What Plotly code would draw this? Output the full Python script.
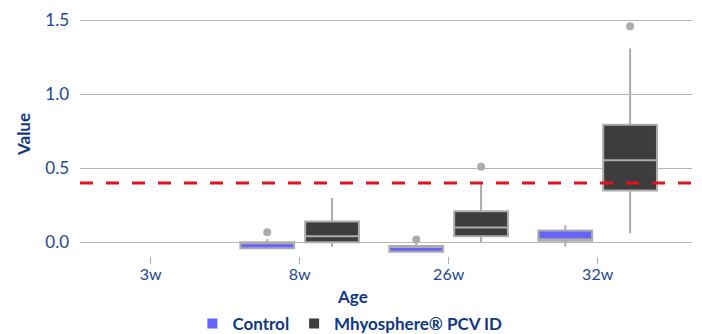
import plotly.graph_objects as go

categories = ["3w", "8w", "26w", "32w"]
box_x = ["8w", "26w", "32w"]

ctrl_lower = [-0.04, -0.065, -0.03]
ctrl_q1 = [-0.04, -0.065, 0.01]
ctrl_median = [-0.005, -0.03, 0.02]
ctrl_q3 = [0.0, -0.025, 0.08]
ctrl_upper = [0.02, 0.0, 0.115]
ctrl_outlier_x = ["8w", "26w"]
ctrl_outlier_y = [0.068, 0.018]

pcv_lower = [-0.03, 0.0, 0.063]
pcv_q1 = [0.0, 0.04, 0.35]
pcv_median = [0.04, 0.10, 0.555]
pcv_q3 = [0.14, 0.21, 0.795]
pcv_upper = [0.30, 0.40, 1.31]
pcv_outlier_x = ["26w", "32w"]
pcv_outlier_y = [0.51, 1.46]

threshold = 0.4
y_ticks = [0.0, 0.5, 1.0, 1.5]

TICK_COLOR = "#1d4595"
TITLE_COLOR = "#0f3883"
FONT = "Lato"
GRAY = "#acacac"
CTRL_COLOR = "#6565fd"
PCV_COLOR = "#3d3d3d"

fig = go.Figure()

def add_box(name, group, color, lower, q1, med, q3, upper):
    fig.add_trace(go.Box(
        name=name, x=box_x, orientation="v", offsetgroup=group,
        lowerfence=lower, q1=q1, median=med, q3=q3, upperfence=upper,
        fillcolor=color, line=dict(color=GRAY, width=2),
        boxpoints=False, whiskerwidth=0,
        showlegend=False, hoverinfo="skip"))

def add_outliers(name, group, ox, oy):
    fig.add_trace(go.Box(
        name=name, x=ox, y=oy, offsetgroup=group,
        fillcolor="rgba(0,0,0,0)", line=dict(color="rgba(0,0,0,0)", width=0),
        marker=dict(color=GRAY, size=8),
        boxpoints="all", jitter=0, pointpos=0, whiskerwidth=0,
        showlegend=False, hoverinfo="skip"))

add_box("Control", "c", CTRL_COLOR, ctrl_lower, ctrl_q1, ctrl_median, ctrl_q3, ctrl_upper)
add_box("Mhyosphere® PCV ID", "p", PCV_COLOR, pcv_lower, pcv_q1, pcv_median, pcv_q3, pcv_upper)
add_outliers("Control", "c", ctrl_outlier_x, ctrl_outlier_y)
add_outliers("Mhyosphere® PCV ID", "p", pcv_outlier_x, pcv_outlier_y)

for name, color in [("Control", CTRL_COLOR), ("Mhyosphere® PCV ID", PCV_COLOR)]:
    fig.add_trace(go.Scatter(x=[None], y=[None], mode="markers", name=name,
                             marker=dict(symbol="square", size=10, color=color)))

fig.add_shape(type="line", xref="paper", x0=0, x1=1, yref="y", y0=threshold, y1=threshold,
              line=dict(color="#e4121d", width=3, dash="13px,13px"))

fig.add_annotation(text="<b>Age</b>", xref="paper", yref="paper", x=0.446, y=-0.166,
                   yanchor="middle", showarrow=False,
                   font=dict(family=FONT, size=17, color=TITLE_COLOR))
fig.add_annotation(text="<b>Value</b>", xref="paper", yref="paper", x=-0.0923, y=0.5,
                   xanchor="center", yanchor="middle", textangle=-90, showarrow=False,
                   font=dict(family=FONT, size=17, color=TITLE_COLOR))

fig.update_layout(
    width=694, height=326,
    margin=dict(l=72, r=10, t=4.6, b=78.3, autoexpand=False),
    paper_bgcolor="white", plot_bgcolor="white",
    boxmode="group", boxgap=0.13, boxgroupgap=0.17,
    font=dict(family=FONT, color=TICK_COLOR, size=16),
    showlegend=True,
    legend=dict(orientation="h", x=0.441, xanchor="center", y=-0.28, yanchor="middle",
                font=dict(family=FONT, size=17, color=TITLE_COLOR, weight="bold"),
                itemwidth=30, traceorder="normal"),
    xaxis=dict(type="category", categoryorder="array", categoryarray=categories,
               tickvals=categories, range=[-0.474, 3.633], automargin=False,
               showgrid=False, zeroline=False, showline=False,
               ticks="outside", ticklen=7, tickcolor=GRAY, tickwidth=1,
               ticklabelstandoff=-3,
               tickfont=dict(family=FONT, size=16, color=TICK_COLOR)),
    yaxis=dict(range=[-0.093, 1.55], tickvals=y_ticks, tickformat=".1f",
               showgrid=True, gridcolor="#b5b5b5", gridwidth=1, automargin=False,
               zeroline=False, showline=False, ticks="", ticklabelstandoff=10,
               tickfont=dict(family=FONT, size=17, color=TICK_COLOR)),
)

fig.write_html("out.html")
